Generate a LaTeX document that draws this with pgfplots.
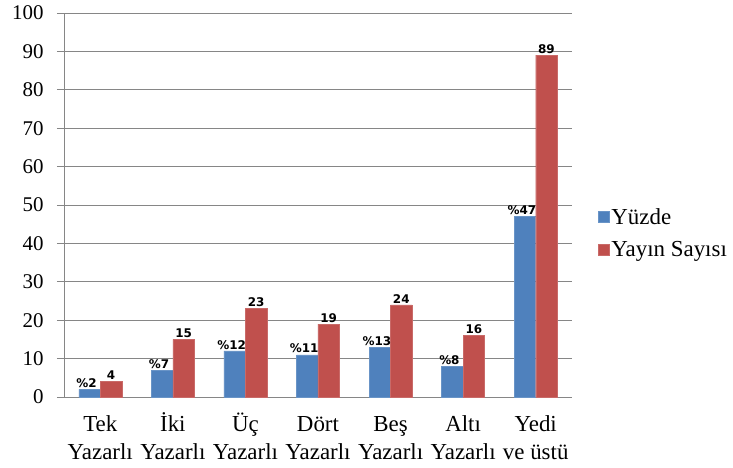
\documentclass[border=0pt]{standalone}
\usepackage{fontspec}
\setmainfont{Liberation Serif}
\newfontfamily\lblfont{DejaVu Sans}
\usepackage{pgfplots}
\pgfplotsset{compat=1.18}
\definecolor{ofblue}{RGB}{79,129,189}
\definecolor{ofred}{RGB}{192,80,77}
\definecolor{axgray}{RGB}{134,134,134}
\begin{document}
\begin{tikzpicture}
\begin{axis}[
    scale only axis,
    width=508bp, height=384bp,
    anchor=south west, at={(0,0)},
    xmin=-0.5, xmax=6.5,
    ymin=0, ymax=100,
    ytick={0,10,...,100},
    xtick={0,...,6},
    xticklabels={\strut Tek\\\strut Yazarlı, \strut İki\\\strut Yazarlı, \strut Üç\\\strut Yazarlı,
        \strut Dört\\\strut Yazarlı, \strut Beş\\\strut Yazarlı, \strut Altı\\\strut Yazarlı,
        \strut Yedi\\\strut ve üstü},
    x tick label style={align=center, font=\fontsize{23}{28}\selectfont, yshift=-8bp, inner sep=0pt},
    y tick label style={font=\fontsize{21}{24}\selectfont, xshift=-10bp},
    /pgf/number format/assume math mode=true,
    axis x line*=bottom, axis y line*=left,
    axis line style={axgray, line width=0.9pt},
    ymajorgrids, major grid style={axgray, line width=0.9pt},
    tick align=outside,
    major tick length=7bp,
    tick style={axgray, line width=0.9pt},
    x tick style={draw=none},
    extra x ticks={-0.5,0.5,...,6.5},
    extra x tick labels={},
    extra x tick style={tick style={axgray, line width=0.9pt}, grid=none},
    ybar, bar width=0.296,
    legend style={at={(1.045,0.426)}, anchor=west, draw=none, fill=none,
        font=\fontsize{23}{25}\selectfont, row sep=12bp,
        legend cell align=left},
    legend image code/.code={\fill[#1] (0bp,-5.5bp) rectangle (11bp,5.5bp);},
    nodes near coords style={font=\lblfont\bfseries\fontsize{12}{13}\selectfont, black, inner sep=1.5bp},
]
\addplot[fill=ofblue, draw=ofblue!85!white, bar shift=-0.148,
    nodes near coords={\%\pgfmathprintnumber{\pgfplotspointmeta}},
    every node near coord/.append style={xshift=-3bp}]
    coordinates {(0,2) (1,7) (2,12) (3,11) (4,13) (5,8) (6,47)};
\addplot[fill=ofred, draw=ofred!85!white, bar shift=0.148,
    nodes near coords]
    coordinates {(0,4) (1,15) (2,23) (3,19) (4,24) (5,16) (6,89)};
\legend{Yüzde, Yayın Sayısı}
\end{axis}
\pgfresetboundingbox
\path[use as bounding box] (-64bp,-71bp) rectangle (669bp,397bp);
\end{tikzpicture}
\end{document}
